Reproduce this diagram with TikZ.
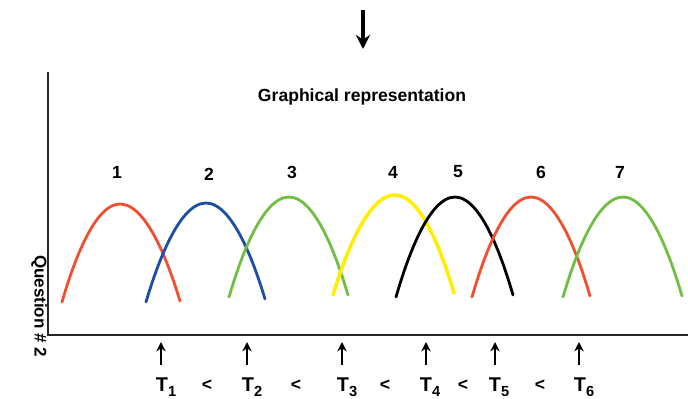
\documentclass[tikz,border=0pt]{standalone}
\usepackage{fontspec}
\setmainfont{Liberation Sans}
\usetikzlibrary{arrows.meta}

\definecolor{bellred}{RGB}{240,80,48}
\definecolor{bellblue}{RGB}{28,78,168}
\definecolor{bellgreen}{RGB}{112,190,68}
\definecolor{bellyellow}{RGB}{255,238,0}

\newcommand{\tsub}[1]{\raisebox{-0.5ex}{\fontsize{12.5}{13}\selectfont #1}}

\begin{document}
\begin{tikzpicture}[
    x=0.03cm, y=-0.03cm,
    font=\bfseries\fontsize{15}{17}\selectfont,
    axis/.style={draw=black!85, line width=1.4pt},
    bell/.style={line width=2.4pt, line cap=round},
    up/.style={-{Stealth[length=2.8mm, width=2.8mm]}, line width=1.9pt},
    num/.style={inner sep=0pt},
    tlbl/.style={inner sep=1pt, font=\bfseries\fontsize{17}{19}\selectfont},
    lt/.style={inner sep=0pt, font=\bfseries\fontsize{15}{17}\selectfont},
  ]
  \useasboundingbox (0,0) rectangle (688,399);

  % --- top arrow ---
  \coordinate (topin) at (363,10);
  \coordinate (topout) at (363,49);
  \draw[-{Stealth[length=4.2mm, width=4.2mm]}, line width=2.8pt] (topin) -- (topout);

  % --- axes ---
  \coordinate (origin) at (48,335);
  \coordinate (ytop) at (48,72);
  \coordinate (xend) at (688,335);
  \draw[axis] (ytop) -- (origin) -- (xend);

  \node (title) at (362,97) {Graphical representation};
  \node[rotate=-90] (ylabel) at (39,306) {\fontsize{14.5}{16}\selectfont Question \# 2};

  % --- response curves ---
  \draw[bell, bellred]    (62,302)  parabola bend (120,204) (180,301);
  \draw[bell, bellblue]   (146,302) parabola bend (206,203) (265,299);
  \draw[bell, bellgreen]  (229,297) parabola bend (289,197) (348,295);
  \draw[bell, bellyellow, line width=3pt] (333,295) parabola bend (395,195) (454,293);
  \draw[bell, black]      (396,297) parabola bend (455,197) (513,295);
  \draw[bell, bellred]    (472,297) parabola bend (531,197) (590,296);
  \draw[bell, bellgreen]  (563,297) parabola bend (623,197) (682,296);

  % --- curve numbers ---
  \node[num] (n1) at (117,172) {1};
  \node[num] (n2) at (209,174) {2};
  \node[num] (n3) at (292,172) {3};
  \node[num] (n4) at (393,172) {4};
  \node[num] (n5) at (458,172) {5};
  \node[num] (n6) at (541,172) {6};
  \node[num] (n7) at (620,172) {7};

  % --- thresholds ---
  \node[tlbl] (t1) at (166,387) {T\tsub{1}};
  \node[tlbl] (t2) at (252,387) {T\tsub{2}};
  \node[tlbl] (t3) at (347,387) {T\tsub{3}};
  \node[tlbl] (t4) at (430,387) {T\tsub{4}};
  \node[tlbl] (t5) at (499,387) {T\tsub{5}};
  \node[tlbl] (t6) at (584,387) {T\tsub{6}};

  \node[lt] (lt1) at (207,385) {<};
  \node[lt] (lt2) at (296,385) {<};
  \node[lt] (lt3) at (385,385) {<};
  \node[lt] (lt4) at (463,385) {<};
  \node[lt] (lt5) at (540,385) {<};

  \coordinate (a1) at (161,342);
  \coordinate (a2) at (247,342);
  \coordinate (a3) at (342,342);
  \coordinate (a4) at (426,342);
  \coordinate (a5) at (495,342);
  \coordinate (a6) at (579,342);

  \draw[up, shorten <=3.4mm] (t1.north -| a1) -- (a1);
  \draw[up, shorten <=3.4mm] (t2.north -| a2) -- (a2);
  \draw[up, shorten <=3.4mm] (t3.north -| a3) -- (a3);
  \draw[up, shorten <=3.4mm] (t4.north -| a4) -- (a4);
  \draw[up, shorten <=3.4mm] (t5.north -| a5) -- (a5);
  \draw[up, shorten <=3.4mm] (t6.north -| a6) -- (a6);
\end{tikzpicture}
\end{document}
